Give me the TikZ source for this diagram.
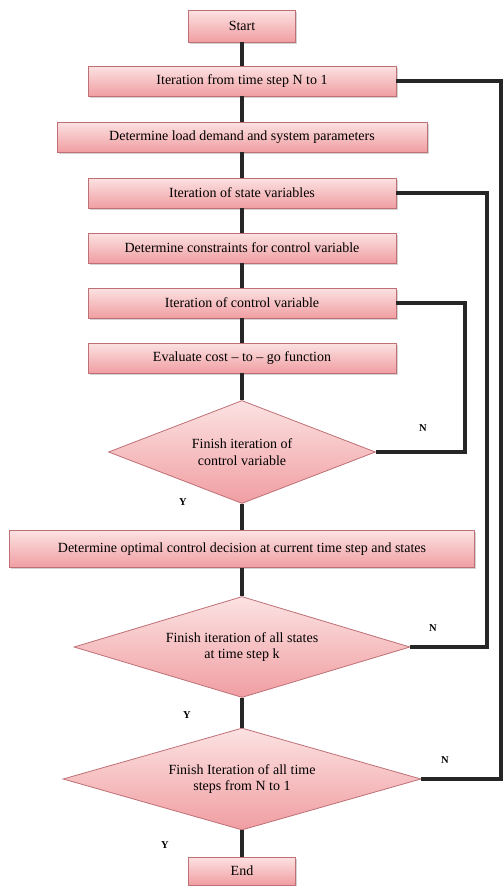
\documentclass[tikz,border=0pt]{standalone}
\usepackage{fontspec}
\setmainfont{Liberation Serif}
\usetikzlibrary{shapes.geometric,shadows}

\begin{document}
\begin{tikzpicture}[x=1pt,y=-1pt,font=\fontsize{14}{16.5}\selectfont,
  step box/.style={rectangle,draw=boxline,line width=0.8pt,
    top color=boxtop,bottom color=boxbottom,
    drop shadow={shadow xshift=1.5pt,shadow yshift=-1.5pt,opacity=0.35},
    minimum height=30pt,inner sep=2pt},
  test box/.style={diamond,draw=boxline,line width=0.8pt,
    top color=boxtop,bottom color=boxbottom,inner sep=0pt,align=center},
  flow/.style={line width=3.2pt,black!85},
  yn/.style={font=\fontsize{10.5}{12}\selectfont\bfseries}]
\definecolor{boxtop}{RGB}{252,226,226}
\definecolor{boxbottom}{RGB}{240,158,162}
\definecolor{boxline}{RGB}{190,112,118}
\useasboundingbox (0,0) rectangle (503,886);

\node[step box,minimum width=107pt,minimum height=32pt] (start) at (242,26) {Start};
\node[step box,minimum width=308pt] (tloop) at (242,81) {Iteration from time step N to 1};
\node[step box,minimum width=370pt] (load) at (242,137) {Determine load demand and system parameters};
\node[step box,minimum width=308pt] (sloop) at (242,193) {Iteration of state variables};
\node[step box,minimum width=308pt] (cons) at (242,248) {Determine constraints for control variable};
\node[step box,minimum width=308pt] (cloop) at (242,303) {Iteration of control variable};
\node[step box,minimum width=308pt] (cost) at (242,358) {Evaluate cost -- to -- go function};
\node[test box,aspect=2.6,minimum width=267pt,minimum height=103pt] (cdone) at (242,452)
  {Finish iteration of\\control variable};
\node[step box,minimum width=465pt,minimum height=37pt] (opt) at (242,549)
  {Determine optimal control decision at current time step and states};
\node[test box,aspect=3.3,minimum width=336pt,minimum height=101pt] (sdone) at (242,647)
  {Finish iteration of all states\\at time step k};
\node[test box,aspect=3.5,minimum width=358pt,minimum height=102pt] (tdone) at (242,779)
  {Finish Iteration of all time\\steps from N to 1};
\node[step box,minimum width=107pt,minimum height=28pt] (end) at (242,871) {End};

% main column
\draw[flow] (start) -- (tloop);
\draw[flow] (tloop) -- (load);
\draw[flow] (load) -- (sloop);
\draw[flow] (sloop) -- (cons);
\draw[flow] (cons) -- (cloop);
\draw[flow] (cloop) -- (cost);
\draw[flow] (cost) -- (cdone);
\draw[flow] (cdone) -- (opt);
\draw[flow] (opt) -- (sdone);
\draw[flow] (sdone) -- (tdone);
\draw[flow] (tdone) -- (end);

% loops back
\coordinate (cturn) at (465,303);
\coordinate (sturn) at (487,193);
\coordinate (tturn) at (501,81);
\draw[flow] (cloop.east) -- (cturn) -- (cturn |- cdone.east) -- (cdone.east);
\draw[flow] (sloop.east) -- (sturn) -- (sturn |- sdone.east) -- (sdone.east);
\draw[flow] (tloop.east) -- (tturn) -- (tturn |- tdone.east) -- (tdone.east);

\node[yn] (n1) at (423,428) {N};
\node[yn] (n2) at (433,628) {N};
\node[yn] (n3) at (445,760) {N};
\node[yn] (y1) at (183,502) {Y};
\node[yn] (y2) at (187,715) {Y};
\node[yn] (y3) at (165,845) {Y};
\end{tikzpicture}
\end{document}
